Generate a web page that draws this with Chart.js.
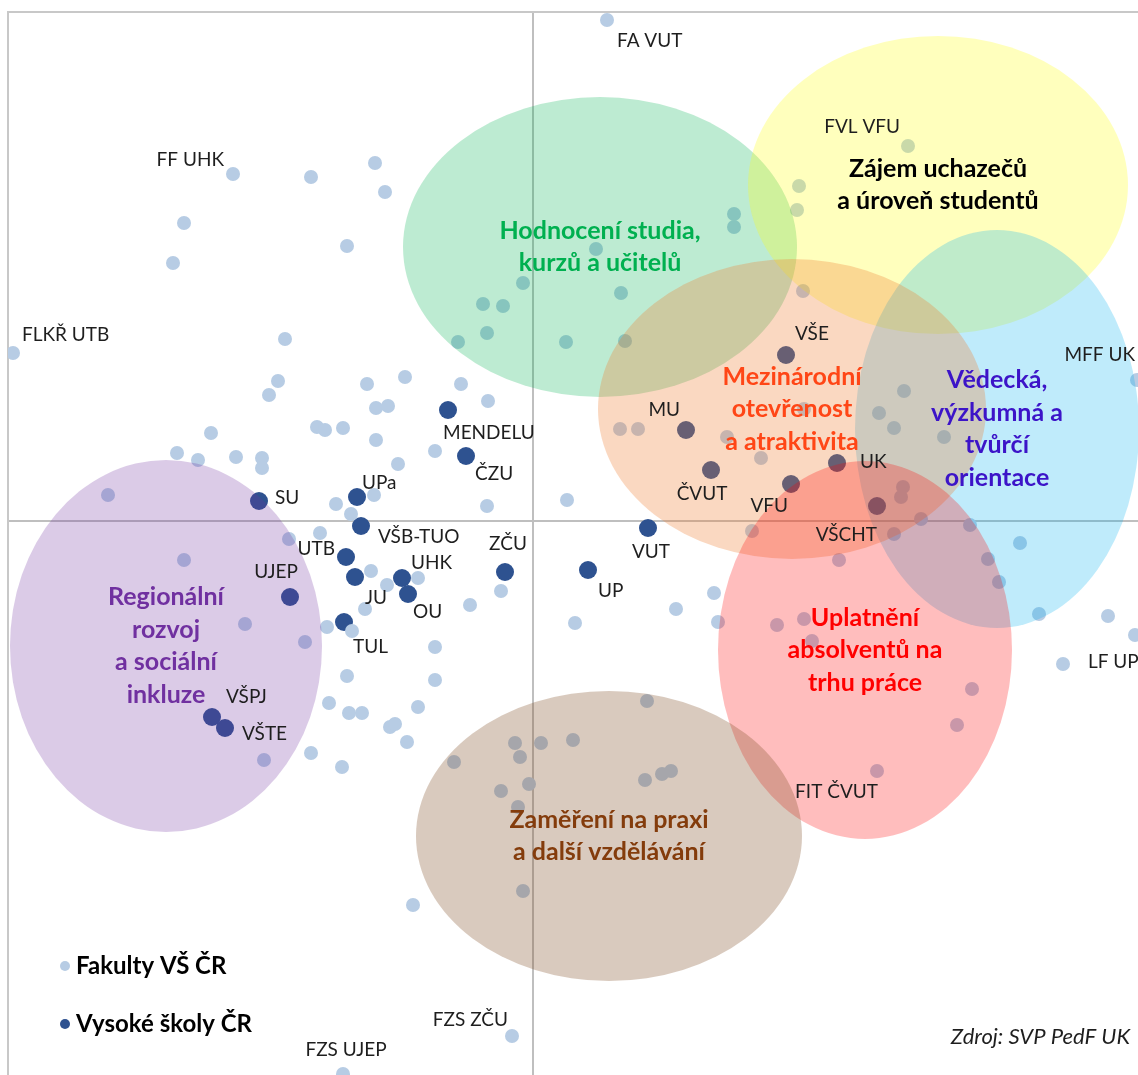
<!DOCTYPE html>
<html>
<head>
<meta charset="utf-8">
<script src="https://cdn.jsdelivr.net/npm/chart.js@4.4.1/dist/chart.umd.min.js"></script>
<style>
  html, body { margin: 0; padding: 0; background: #fff; }
  #wrap { width: 1138px; height: 1075px; }
</style>
</head>
<body>
<div id="wrap"><canvas id="chart" width="1138" height="1075"></canvas></div>
<script>
// Fakulty VŠ ČR - prvních 9 bodů má popisek
const fakultyNames = ['FA VUT', 'FF UHK', 'FLKŘ UTB', 'FVL VFU', 'MFF UK', 'LF UP', 'FIT ČVUT', 'FZS ZČU', 'FZS UJEP'];
const fakultyX = [0.74, -3.00, -5.20, 3.75, 6.04, 5.30, 3.44, -0.21, -1.90,
    -2.22, -1.58, -1.48, -3.49, -1.86, -3.60, -2.48, -0.10, -0.50, -0.30, -0.46, -0.75, 0.63, 0.88, 0.33, 0.92, 2.01, 2.01, 2.66, 2.64, 2.70,
    -2.55, -2.64, -1.66, -1.28, -0.72, -0.45, -1.57, -1.45, -3.22, -2.16, -2.08, -1.90, -1.57, -0.98, -3.56, -3.35, -2.97, -2.71, -2.71, -1.35,
    -4.25, -1.59, -1.97, -0.46, -1.82, -2.13, -2.44, -3.49, -1.62, -1.15, -1.46, -0.32, -0.63, -1.68, -2.88, -2.28, -2.06, -1.81, -0.98, -1.86,
    -0.98, -2.04, -1.84, -1.71, -1.15, -1.43, -1.38, -1.26, -2.69, -2.22, -1.91, -0.79, -0.18, -0.13, 0.08, -0.04, -0.32, -0.15, -0.10, -1.20,
    0.40, 1.14, 1.12, 1.29, 1.38, 0.87, 1.05, 1.94, 2.71, 2.28, 3.71, 3.46, 3.61, 4.11, 3.70, 3.68, 0.34, 2.19, 3.88, 4.37,
    3.61, 3.06, 4.87, 4.55, 4.66, 1.81, 1.43, 0.42, 1.85, 2.44, 2.71, 2.79, 5.06, 5.75, 6.02, 4.39, 4.24];
const fakultyY = [5.01, 3.47, 1.68, 3.75, 1.41, -1.43, -2.50, -5.15, -5.53,
    3.44, 3.58, 3.29, 2.98, 2.75, 2.58, 1.82, 2.38, 2.17, 2.15, 1.88, 1.79, 2.72, 2.28, 1.79, 1.80, 3.07, 2.94, 3.35, 3.11, 2.30,
    1.40, 1.26, 1.37, 1.44, 1.37, 1.20, 1.13, 1.15, 0.88, 0.94, 0.91, 0.93, 0.81, 0.70, 0.68, 0.61, 0.64, 0.63, 0.53, 0.57,
    0.26, 0.26, 0.17, 0.15, 0.07, -0.12, -0.18, -0.39, -0.50, -0.57, -0.64, -0.70, -0.84, -0.88, -1.03, -1.21, -1.06, -1.10, -1.26, -1.55,
    -1.59, -1.82, -1.92, -1.92, -1.86, -2.06, -2.03, -2.21, -2.39, -2.32, -2.46, -2.41, -2.22, -2.36, -2.22, -2.63, -2.70, -2.86, -3.70, -3.84,
    -2.19, -1.80, -2.59, -2.53, -2.50, 0.92, 0.92, 0.84, 1.12, 0.63, 1.30, 1.08, 0.93, 0.84, 0.34, 0.24, 0.21, -0.10, 0.02, -0.04,
    -0.13, -0.39, -0.22, -0.38, -0.61, -0.72, -0.88, -1.02, -1.01, -1.04, -0.98, -1.20, -0.93, -0.95, -1.14, -1.68, -2.04];

// Vysoké školy ČR
const skolyNames = ['VŠE', 'MENDELU', 'ČZU', 'MU', 'ČVUT', 'UK', 'VFU', 'VŠCHT', 'SU', 'UPa', 'VŠB-TUO', 'VUT',
    'UTB', 'ZČU', 'UP', 'JU', 'UHK', 'OU', 'UJEP', 'TUL', 'VŠPJ', 'VŠTE'];
const skolyX = [2.53, -0.85, -0.67, 1.53, 1.78, 3.04, 2.58, 3.44, -2.74, -1.76, -1.72, 1.15,
    -1.87, -0.28, 0.55, -1.78, -1.31, -1.25, -2.43, -1.89, -3.21, -3.08];
const skolyY = [1.66, 1.11, 0.65, 0.91, 0.51, 0.58, 0.37, 0.15, 0.20, 0.24, -0.05, -0.07,
    -0.36, -0.51, -0.49, -0.56, -0.57, -0.73, -0.76, -1.01, -1.96, -2.07];

// Oblasti (elipsy) - střed a poloosy v jednotkách os
const oblastiText = [
    ['Hodnocení studia,', 'kurzů a učitelů'],
    ['Zájem uchazečů', 'a úroveň studentů'],
    ['Vědecká,', 'výzkumná a', 'tvůrčí', 'orientace'],
    ['Mezinárodní', 'otevřenost', 'a atraktivita'],
    ['Uplatnění', 'absolventů na', 'trhu práce'],
    ['Regionální', 'rozvoj', 'a sociální', 'inkluze'],
    ['Zaměření na praxi', 'a další vzdělávání']
];
const oblastiX = [0.67, 4.05, 4.64, 2.59, 3.32, -3.67, 0.76];
const oblastiY = [2.74, 3.36, 0.92, 1.12, -1.29, -1.25, -3.15];
const oblastiRX = [1.97, 1.90, 1.42, 1.94, 1.47, 1.56, 1.93];
const oblastiRY = [1.50, 1.49, 1.99, 1.50, 1.89, 1.86, 1.45];

// Barvy výplní a textů oblastí
const oblastiFill = ['rgba(0,176,80,0.26)', 'rgba(255,255,0,0.26)', 'rgba(0,176,240,0.25)', 'rgba(237,125,49,0.3)',
    'rgba(255,0,0,0.26)', 'rgba(112,48,160,0.25)', 'rgba(128,80,40,0.3)'];
const oblastiBarva = ['#00B050', '#000000', '#3C14C8', '#FF4616', '#FF0000', '#7030A0', '#843C0C'];

// Umístění popisků bodů: [dx, dy, zarovnání]
const popisky = {
    'VŠE': [9, -21, 'left'], 'MENDELU': [-5, 23, 'left'], 'ČZU': [9, 18, 'left'], 'MU': [-6, -20, 'right'],
    'ČVUT': [-9, 24, 'center'], 'UK': [23, -1, 'left'], 'VFU': [-3, 22, 'right'], 'VŠCHT': [0, 29, 'right'],
    'SU': [16, -3, 'left'], 'UPa': [5, -14, 'left'], 'VŠB-TUO': [17, 11, 'left'], 'VUT': [3, 24, 'center'],
    'UTB': [-11, -8, 'right'], 'ZČU': [3, -28, 'center'], 'UP': [10, 21, 'left'], 'JU': [10, 21, 'left'],
    'UHK': [9, -15, 'left'], 'OU': [5, 18, 'left'], 'UJEP': [8, -25, 'right'], 'TUL': [9, 25, 'left'],
    'VŠPJ': [14, -20, 'left'], 'VŠTE': [17, 6, 'left'],
    'FA VUT': [10, 21, 'left'], 'FF UHK': [-9, -14, 'right'], 'FLKŘ UTB': [9, -18, 'left'], 'FVL VFU': [-8, -19, 'right'],
    'MFF UK': [-2, -25, 'right'], 'LF UP': [25, -2, 'left'], 'FIT ČVUT': [1, 21, 'right'], 'FZS ZČU': [-4, -16, 'right'],
    'FZS UJEP': [3, -24, 'center']
};

const svetla = '#B7CCE4';
const tmava = '#2E5290';

// Elipsy, texty oblastí, popisky, legenda a zdroj
const oblastiPlugin = {
    id: 'oblasti',
    afterDatasetsDraw(chart) {
        const { ctx, chartArea, scales: { x, y } } = chart;
        ctx.save();
        ctx.beginPath();
        ctx.rect(chartArea.left, chartArea.top, chartArea.right - chartArea.left, chartArea.bottom - chartArea.top);
        ctx.clip();

        oblastiText.forEach((lines, i) => {
            const cx = x.getPixelForValue(oblastiX[i]);
            const cy = y.getPixelForValue(oblastiY[i]);
            const rx = Math.abs(x.getPixelForValue(oblastiX[i] + oblastiRX[i]) - cx);
            const ry = Math.abs(y.getPixelForValue(oblastiY[i] + oblastiRY[i]) - cy);
            ctx.beginPath();
            ctx.ellipse(cx, cy, rx, ry, 0, 0, Math.PI * 2);
            ctx.fillStyle = oblastiFill[i];
            ctx.fill();
        });

        ctx.font = 'bold 25px Lato';
        ctx.textAlign = 'center';
        ctx.textBaseline = 'middle';
        oblastiText.forEach((lines, i) => {
            const cx = x.getPixelForValue(oblastiX[i]);
            const cy = y.getPixelForValue(oblastiY[i]);
            ctx.fillStyle = oblastiBarva[i];
            lines.forEach((t, j) => {
                ctx.fillText(t, cx, cy + (j - (lines.length - 1) / 2) * 32.5);
            });
        });

        // popisky bodů
        ctx.font = '19px Lato';
        ctx.fillStyle = '#1e1e1e';
        chart.data.datasets.forEach((ds, di) => {
            const meta = chart.getDatasetMeta(di);
            meta.data.forEach((pt, i) => {
                const name = ds.names[i];
                if (!name) return;
                const o = popisky[name];
                ctx.textAlign = o[2];
                ctx.fillText(name, pt.x + o[0], pt.y + o[1]);
            });
        });

        // legenda
        const lx = chartArea.left + 57;
        const ly = chartArea.bottom - 109;
        ctx.font = 'bold 24px Lato';
        ctx.textAlign = 'left';
        chart.data.datasets.forEach((ds, di) => {
            const yy = ly + di * 58;
            ctx.beginPath();
            ctx.arc(lx, yy, 5, 0, Math.PI * 2);
            ctx.fillStyle = ds.backgroundColor;
            ctx.fill();
            ctx.fillStyle = '#000';
            ctx.fillText(ds.label, lx + 11, yy);
        });

        // zdroj
        ctx.font = 'italic 22px Lato';
        ctx.textAlign = 'right';
        ctx.fillStyle = '#1e1e1e';
        ctx.fillText('Zdroj: SVP PedF UK', chartArea.right - 8, chartArea.bottom - 38);
        ctx.restore();
    }
};

const osaGrid = {
    drawTicks: false,
    lineWidth: 2,
    color: ctx => (ctx.tick && ctx.tick.value === 0 ? '#BFBFBF' : 'rgba(0,0,0,0)')
};

new Chart(document.getElementById('chart'), {
    type: 'scatter',
    data: {
        datasets: [
            {
                label: 'Fakulty VŠ ČR',
                names: fakultyNames,
                data: fakultyX.map((v, i) => ({ x: v, y: fakultyY[i] })),
                backgroundColor: svetla,
                borderWidth: 0,
                pointRadius: 7
            },
            {
                label: 'Vysoké školy ČR',
                names: skolyNames,
                data: skolyX.map((v, i) => ({ x: v, y: skolyY[i] })),
                backgroundColor: tmava,
                borderWidth: 0,
                pointRadius: 9
            }
        ]
    },
    options: {
        responsive: false,
        animation: false,
        devicePixelRatio: 1,
        layout: { autoPadding: false, padding: { left: 8, top: 12, right: 0, bottom: 0 } },
        plugins: { legend: { display: false }, tooltip: { enabled: false } },
        scales: {
            x: {
                type: 'linear', position: 'top', min: -5.25, max: 6.05,
                afterBuildTicks: s => { s.ticks = [{ value: 0 }]; },
                ticks: { display: false },
                grid: osaGrid,
                border: { color: '#C8C8C8', width: 2 }
            },
            y: {
                type: 'linear', position: 'left', min: -5.54, max: 5.09,
                afterBuildTicks: s => { s.ticks = [{ value: 0 }]; },
                ticks: { display: false },
                grid: osaGrid,
                border: { color: '#C8C8C8', width: 2 }
            }
        }
    },
    plugins: [oblastiPlugin]
});
</script>
</body>
</html>
